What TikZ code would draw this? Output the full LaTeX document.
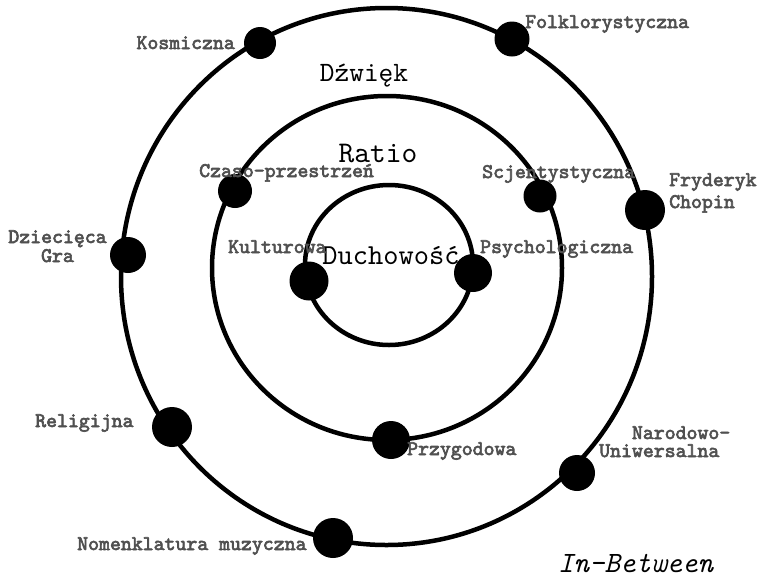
\documentclass[tikz,border=0pt]{standalone}
\usepackage{fontspec}
\setmonofont{lmmono10-regular.otf}[ItalicFont=lmmono10-italic.otf, BoldFont=lmmono10-regular.otf, BoldFeatures={FakeBold=3}]
\definecolor{lbl}{RGB}{80,80,80}
\begin{document}
\begin{tikzpicture}[x=1pt,y=-1pt,
  ring/.style={line width=4.5pt},
  dotnode/.style={circle,fill=black,inner sep=0pt,minimum size=#1},
  lab/.style={font=\ttfamily\bfseries\fontsize{20.8}{22}\selectfont, text=lbl, inner sep=0pt},
  big/.style={font=\ttfamily\fontsize{29}{32}\selectfont, inner sep=0pt}]
\useasboundingbox[fill=white] (0,0) rectangle (760,579);

% rings
\coordinate (cout) at (386.5,276.5);
\coordinate (cmid) at (387,268);
\coordinate (cin)  at (389,265);
\draw[ring] (cout) ellipse [x radius=265.5, y radius=268.5];
\draw[ring] (cmid) ellipse [x radius=175, y radius=172];
\draw[ring] (cin)  ellipse [x radius=84, y radius=80];

% dots
\node[dotnode=32pt] (kos) at (260,43) {};
\node[dotnode=35pt] (fol) at (512,39) {};
\node[dotnode=40pt] (cho) at (645,210) {};
\node[dotnode=33pt] (scj) at (540,196) {};
\node[dotnode=38pt] (psy) at (473,273) {};
\node[dotnode=34pt] (cza) at (235,191) {};
\node[dotnode=36pt] (dzi) at (128,255) {};
\node[dotnode=39pt] (kul) at (309,281) {};
\node[dotnode=40pt] (rel) at (172,427) {};
\node[dotnode=40pt] (nom) at (333,538) {};
\node[dotnode=38pt] (prz) at (391,440) {};
\node[dotnode=36pt] (nar) at (577,473) {};

% ring titles
\node[big, anchor=base, font=\ttfamily\fontsize{28}{32}\selectfont] (tdz) at (364,81) {Dźwięk};
\node[big, anchor=base, font=\ttfamily\fontsize{30}{32}\selectfont] (tra) at (378,162) {Ratio};
\node[big, anchor=base] (tdu) at (391,264) {Duchowość};
\node[big, anchor=base west, font=\ttfamily\itshape\fontsize{29.5}{32}\selectfont] (tib) at (558,572) {In-Between};

% labels
\node[lab, anchor=base east] (lkos) at (235,49) {Kosmiczna};
\node[lab, anchor=base west] (lfol) at (525,28) {Folklorystyczna};
\node[lab, anchor=base west, align=left, font=\ttfamily\bfseries\fontsize{20.8}{22}\selectfont] (lcho) at (669,208) {Fryderyk\\Chopin};
\node[lab, anchor=base west] (lscj) at (482,178) {Scjentystyczna};
\node[lab, anchor=base west] (lpsy) at (480,253) {Psychologiczna};
\node[lab, anchor=base west] (lcza) at (199,177) {Czaso-przestrzeń};
\node[lab, anchor=base west] (lkul) at (228,253) {Kulturowa};
\node[lab, anchor=base, align=center, font=\ttfamily\bfseries\fontsize{20.8}{19}\selectfont] (ldzi) at (57.5,262) {Dziecięca\\Gra};
\node[lab, anchor=base west] (lrel) at (35,427) {Religijna};
\node[lab, anchor=base west] (lnom) at (77,550) {Nomenklatura muzyczna};
\node[lab, anchor=base west] (lprz) at (407,455) {Przygodowa};
\node[lab, anchor=base west, align=left, font=\ttfamily\bfseries\fontsize{20.8}{18}\selectfont] (lnar) at (599,457) {\phantom{Uni}Narodowo-\\Uniwersalna};
\end{tikzpicture}
\end{document}
